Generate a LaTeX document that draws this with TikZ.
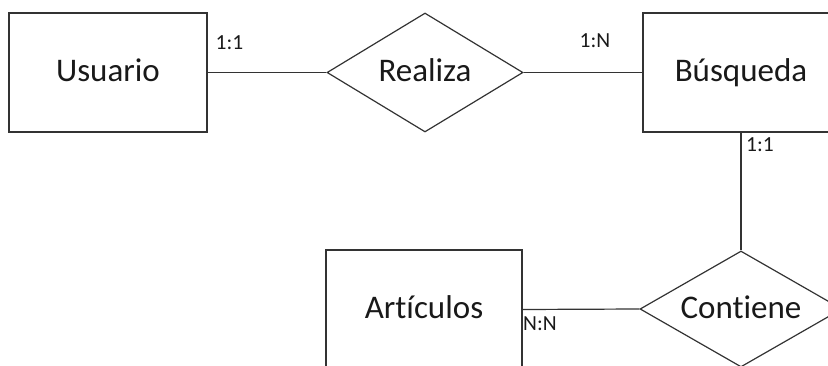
\documentclass[tikz,border=0pt]{standalone}
\usepackage{fontspec}
\setmainfont{Carlito}[Ligatures=NoCommon]
\usetikzlibrary{shapes.geometric}
\begin{document}
\begin{tikzpicture}[x=1pt,y=-1pt,
  lbl/.style={font=\fontsize{33}{36}\selectfont, text=black!90, text height=26pt, text depth=7pt},
  entity/.style={lbl, draw=black!80, line width=1.2pt, rectangle, minimum width=198pt, minimum height=119pt, inner sep=0pt},
  rel/.style={lbl, draw=black!80, line width=1.2pt, diamond, inner sep=0pt},
  conn/.style={draw=black!80, line width=1.2pt},
  card/.style={inner sep=0pt, text=black!90, font=\fontsize{21.5}{24}\selectfont}]
\useasboundingbox (0,0) rectangle (828,366);
\clip (0,0) rectangle (828,366);
\node[entity] (usuario) at (108,72.5) {Usuario};
\node[rel, aspect=1.65, minimum width=196pt, minimum height=119pt] (realiza) at (425,72.5) {Realiza};
\node[entity, minimum width=196pt] (busqueda) at (741,72.5) {Búsqueda};
\node[entity, minimum width=196pt] (articulos) at (424,309.5) {Artículos};
\node[rel, aspect=1.74, minimum width=202pt, minimum height=116pt] (contiene) at (741,309) {Contiene};
\draw[conn] (usuario.east) -- (realiza.west);
\draw[conn] (realiza.east) -- (busqueda.west);
\draw[conn] (busqueda.south) -- (contiene.north);
\draw[conn] (articulos.east) -- (contiene.west);
\node[card] (c1) at (229.5,43) {1:1};
\node[card] (c2) at (595,41) {1:N};
\node[card] (c3) at (760,145) {1:1};
\node[card] (c4) at (540,324) {N:N};
\end{tikzpicture}
\end{document}
